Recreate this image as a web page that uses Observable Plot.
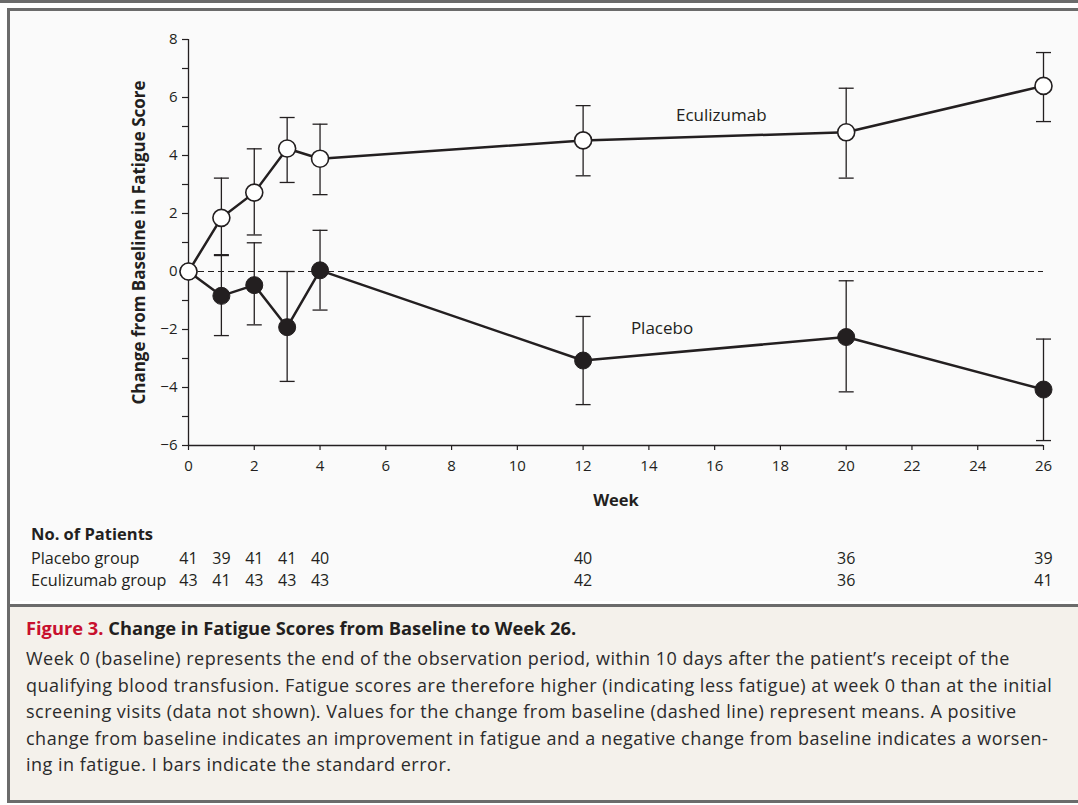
<!DOCTYPE html>
<html>
<head>
<meta charset="utf-8">
<script src="https://cdn.jsdelivr.net/npm/d3@7"></script>
<script src="https://cdn.jsdelivr.net/npm/@observablehq/plot@0.6"></script>
<style>
  html, body { margin: 0; padding: 0; background: #ffffff; }
  #page { position: relative; width: 1078px; height: 805px; overflow: hidden; font-family: "Open Sans", Lato, sans-serif; color: #231f20; }
  #topbar { position: absolute; left: 0; top: 0; width: 1078px; height: 3px; background: #6b6b6b; }
  #frame { position: absolute; left: 7px; top: 8px; width: 1100px; height: 795px; box-sizing: border-box; border: 3px solid #6b6b6b; border-right: none; }
  #chartbg { position: absolute; left: 0; top: 0; width: 100%; height: 590px; background: #fafafa; }
  #capbg { position: absolute; left: 0; top: 593px; width: 100%; height: 196px; background: #f4f1eb; border-top: 3px solid #6b6b6b; box-sizing: border-box; }
  .abs { position: absolute; }
  #plot { left: 10px; top: 11px; }
  #table { left: 10px; top: 548px; }
  .hdr { left: 31px; top: 523px; font-size: 16.5px; font-weight: bold; line-height: 22px; white-space: nowrap; }
  .rowlab { left: 31px; font-size: 16.2px; line-height: 20px; white-space: nowrap; }
  #caption { left: 26px; top: 615px; width: 1050px; white-space: nowrap; }
  #caption .title { font-size: 18.3px; font-weight: bold; line-height: 26px; color: #231f20; }
  #caption .title .fig { color: #c8102e; }
  #caption .body { font-size: 18px; letter-spacing: 0.5px; line-height: 26.5px; color: #2b2b2b; margin-top: 4px; }
</style>
</head>
<body>
<div id="page">
  <div id="topbar"></div>
  <div id="frame">
    <div id="chartbg"></div>
    <div id="capbg"></div>
  </div>
  <div id="plot" class="abs"></div>
  <div class="abs hdr">No. of Patients</div>
  <div class="abs rowlab" style="top:548px">Placebo group</div>
  <div class="abs rowlab" style="top:570px">Eculizumab group</div>
  <div id="table" class="abs"></div>
  <div id="caption" class="abs">
    <div class="title"><span class="fig">Figure 3.</span> Change in Fatigue Scores from Baseline to Week 26.</div>
    <div class="body">
      Week 0 (baseline) represents the end of the observation period, within 10 days after the patient’s receipt of the<br>
      qualifying blood transfusion. Fatigue scores are therefore higher (indicating less fatigue) at week 0 than at the initial<br>
      screening visits (data not shown). Values for the change from baseline (dashed line) represent means. A positive<br>
      change from baseline indicates an improvement in fatigue and a negative change from baseline indicates a worsen-<br>
      ing in fatigue. I bars indicate the standard error.
    </div>
  </div>
</div>
<script>
// ---- Data ----
const weeks = [0, 1, 2, 3, 4, 12, 20, 26];

const eculizumabMean  = [0, 1.85, 2.72, 4.24, 3.89, 4.52, 4.80, 6.40];
const eculizumabLower = [null, 0.55, 1.26, 3.07, 2.65, 3.30, 3.22, 5.17];
const eculizumabUpper = [null, 3.22, 4.23, 5.31, 5.08, 5.72, 6.32, 7.55];

const placeboMean  = [0, -0.84, -0.47, -1.92, 0.04, -3.07, -2.26, -4.07];
const placeboLower = [null, -2.21, -1.84, -3.79, -1.33, -4.59, -4.15, -5.83];
const placeboUpper = [null, 0.58, 0.99, 0.00, 1.42, -1.55, -0.32, -2.33];

const placeboN    = [41, 39, 41, 41, 40, 40, 36, 39];
const eculizumabN = [43, 41, 43, 43, 43, 42, 36, 41];

const groupRows = ["Placebo group", "Eculizumab group"];

const yMajorTicks = [-6, -4, -2, 0, 2, 4, 6, 8];
const yMinorTicks = [-5, -3, -1, 1, 3, 5, 7];
const xTicks = [0, 2, 4, 6, 8, 10, 12, 14, 16, 18, 20, 22, 24, 26];

const seriesLabels = [
  {label: "Eculizumab", week: 16.2, value: 5.38},
  {label: "Placebo", week: 14.4, value: -1.97}
];

const yLabel = "Change from Baseline in Fatigue Score";
const xLabel = "Week";

// ---- Build tables for the library ----
const ink = "#231f20";
function series(group, mean, lower, upper) {
  return weeks.map((w, i) => ({group, week: w, mean: mean[i], lower: lower[i], upper: upper[i]}));
}
const ecu = series("Eculizumab", eculizumabMean, eculizumabLower, eculizumabUpper);
const pla = series("Placebo", placeboMean, placeboLower, placeboUpper);
const bars = [...pla, ...ecu].filter(d => d.lower != null);

const capSymbol = {
  draw(ctx, size) {
    const w = Math.sqrt(size / Math.PI);
    ctx.moveTo(-w, 0);
    ctx.lineTo(w, 0);
  }
};

const fontFamily = "'Open Sans', Lato, sans-serif";
const fmt = d => (d < 0 ? "\u2212" : "") + Math.abs(d);

const chart = Plot.plot({
  width: 1068,
  height: 510,
  marginLeft: 178,
  marginRight: 35,
  marginTop: 28,
  marginBottom: 76,
  style: {background: "transparent", fontFamily, color: ink, overflow: "visible"},
  x: {domain: [0, 26]},
  y: {domain: [-6, 8]},
  marks: [
    Plot.ruleY([0], {stroke: ink, strokeWidth: 1.1, strokeDasharray: "6,4"}),
    Plot.axisY({ticks: [...yMajorTicks, ...yMinorTicks], tickSize: 6, tickFormat: () => "", label: null, stroke: ink, strokeWidth: 1.2}),
    Plot.text(yMajorTicks, {y: d => d, text: fmt, frameAnchor: "left", textAnchor: "end", dx: -11, fontSize: 15, fill: ink}),
    Plot.axisX({ticks: xTicks, tickSize: 5, tickPadding: 10, fontSize: 15, label: null, stroke: ink, strokeWidth: 1.2, fill: ink}),
    Plot.ruleX([0], {stroke: ink, strokeWidth: 1.3}),
    Plot.ruleY([-6], {stroke: ink, strokeWidth: 1.3}),
    Plot.text([yLabel], {text: d => d, frameAnchor: "left", textAnchor: "middle", dx: -49, rotate: -90, fontSize: 17, fontWeight: "bold", fill: ink}),
    Plot.text([xLabel], {text: d => d, frameAnchor: "bottom", dy: 60, fontSize: 16.5, fontWeight: "bold", fill: ink}),
    // error bars
    Plot.ruleX(bars, {x: "week", y1: "lower", y2: "upper", stroke: ink, strokeWidth: 1.3}),
    Plot.dot(bars, {x: "week", y: "lower", symbol: capSymbol, r: 7.5, stroke: ink, strokeWidth: 1.3, fill: "none"}),
    Plot.dot(bars, {x: "week", y: "upper", symbol: capSymbol, r: 7.5, stroke: ink, strokeWidth: 1.3, fill: "none"}),
    // lines
    Plot.line(pla, {x: "week", y: "mean", stroke: ink, strokeWidth: 2.5}),
    Plot.line(ecu, {x: "week", y: "mean", stroke: ink, strokeWidth: 2.5}),
    // points
    Plot.dot(pla, {x: "week", y: "mean", r: 8.5, fill: ink, stroke: ink, strokeWidth: 1}),
    Plot.dot(ecu, {x: "week", y: "mean", r: 8.5, fill: "#ffffff", stroke: ink, strokeWidth: 1.6}),
    // series labels
    Plot.text(seriesLabels, {x: "week", y: "value", text: "label", fontSize: 17, fill: ink})
  ]
});
document.getElementById("plot").appendChild(chart);

// ---- Number of patients table, on the same x scale ----
const counts = [
  ...weeks.map((w, i) => ({row: groupRows[0], week: w, n: placeboN[i]})),
  ...weeks.map((w, i) => ({row: groupRows[1], week: w, n: eculizumabN[i]}))
];
const table = Plot.plot({
  width: 1068,
  height: 42,
  marginLeft: 178,
  marginRight: 35,
  marginTop: 10,
  marginBottom: 10,
  style: {background: "transparent", fontFamily, color: ink, overflow: "visible"},
  x: {domain: [0, 26], axis: null},
  y: {domain: groupRows, axis: null, padding: 0},
  marks: [
    Plot.text(counts, {x: "week", y: "row", text: "n", fontSize: 16, fill: ink})
  ]
});
document.getElementById("table").appendChild(table);
</script>
</body>
</html>
